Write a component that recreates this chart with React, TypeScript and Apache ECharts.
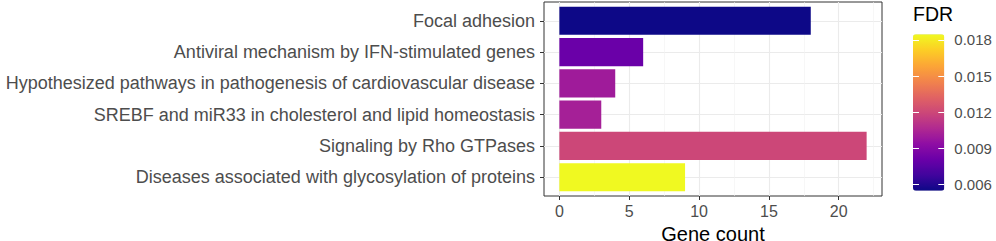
import React, { useEffect, useRef } from "react";
import * as echarts from "echarts";

const categories = [
  "Focal adhesion",
  "Antiviral mechanism by IFN-stimulated genes",
  "Hypothesized pathways in pathogenesis of cardiovascular disease",
  "SREBF and miR33 in cholesterol and lipid homeostasis",
  "Signaling by Rho GTPases",
  "Diseases associated with glycosylation of proteins",
];
const geneCount = [18, 6, 4, 3, 22, 9];
const fdr = [0.00547, 0.00807, 0.0100, 0.0102, 0.01197, 0.01847];
const xTicks = [0, 5, 10, 15, 20];
const xMinor = [2.5, 7.5, 12.5, 17.5, 22.5];
const fdrTicks = [0.006, 0.009, 0.012, 0.015, 0.018];
const fdrMin = 0.00547;
const fdrMax = 0.01847;
const plasma = [
  "#0d0887", "#41049d", "#6a00a8", "#8f0da4", "#b12a90", "#cc4778",
  "#e16462", "#f2844b", "#fca636", "#fcce25", "#f0f921",
];

const FONT = "Liberation Sans, Arial, Helvetica, sans-serif";
const XMIN = -1.1;
const XMAX = 23.1;

export default function App() {
  const ref = useRef<HTMLDivElement>(null);
  useEffect(() => {
    const chart = echarts.init(ref.current!, null, { renderer: "svg" });
    const pLeft = 544, pTop = 2, pW = 338, pH = 194;
    const step = pH / 6.2;
    const option: any = {
      animation: false,
      textStyle: { fontFamily: FONT },
      grid: [
        { left: pLeft, top: pTop, width: pW, height: pH, show: true, borderColor: "#333333", borderWidth: 1, backgroundColor: "#ffffff", z: 0, outerBoundsMode: "none", containLabel: false },
        { left: pLeft, top: pTop + 0.1 * step, width: pW, height: 6 * step, outerBoundsMode: "none", containLabel: false },
        { left: 913, top: 34.3, width: 31.3, height: 156.4, outerBoundsMode: "none", containLabel: false },
      ],
      xAxis: [
        {
          gridIndex: 0, type: "value", min: XMIN, max: XMAX,
          axisLine: { show: false, onZero: false },
          axisTick: { show: true, customValues: xTicks, length: 4, lineStyle: { color: "#333333" } },
          axisLabel: { customValues: xTicks, color: "#4d4d4d", fontSize: 16, margin: 7, fontFamily: FONT },
          splitLine: { show: true, lineStyle: { color: "#ebebeb", width: 1.1 } },
          name: "Gene count", nameLocation: "middle", nameGap: 25,
          nameTextStyle: { color: "#000000", fontSize: 20, fontFamily: FONT },
        },
        {
          gridIndex: 0, type: "value", min: XMIN, max: XMAX, position: "top",
          axisLine: { show: false, onZero: false },
          axisTick: { show: false, customValues: xMinor },
          axisLabel: { show: false, customValues: xMinor },
          splitLine: { show: true, lineStyle: { color: "#f2f2f2", width: 0.6 } },
        },
        {
          gridIndex: 1, type: "value", min: XMIN, max: XMAX, show: false,
          axisLine: { onZero: false },
          splitLine: { show: false },
        },
        { gridIndex: 2, type: "value", min: 0, max: 1, show: false, axisLine: { onZero: false } },
      ],
      yAxis: [
        {
          gridIndex: 0, type: "value", min: -0.6, max: 5.6,
          axisLine: { show: false, onZero: false },
          axisTick: { show: false, customValues: [0, 1, 2, 3, 4, 5] },
          axisLabel: { show: false, customValues: [0, 1, 2, 3, 4, 5] },
          splitLine: { show: true, lineStyle: { color: "#ebebeb", width: 1.1 } },
        },
        {
          gridIndex: 1, type: "category", data: categories, inverse: true,
          axisLine: { show: false, onZero: false },
          axisTick: { show: true, alignWithLabel: true, length: 4, lineStyle: { color: "#333333" } },
          axisLabel: { color: "#4d4d4d", fontSize: 18, margin: 9, fontFamily: FONT },
          splitLine: { show: false },
        },
        {
          gridIndex: 2, type: "value", min: fdrMin, max: fdrMax, position: "left",
          axisLine: { show: false, onZero: false },
          axisTick: { show: true, inside: true, length: 6, customValues: fdrTicks, lineStyle: { color: "#ffffff", width: 1 } },
          axisLabel: { show: false, customValues: fdrTicks },
          splitLine: { show: false },
          z: 5,
        },
        {
          gridIndex: 2, type: "value", min: fdrMin, max: fdrMax, position: "right",
          axisLine: { show: false, onZero: false },
          axisTick: { show: true, inside: true, length: 6, customValues: fdrTicks, lineStyle: { color: "#ffffff", width: 1 } },
          axisLabel: {
            show: true, customValues: fdrTicks, color: "#4d4d4d", fontSize: 15, margin: 10, fontFamily: FONT,
            formatter: (v: number) => v.toFixed(3),
          },
          splitLine: { show: false },
          z: 5,
        },
      ],
      visualMap: {
        type: "continuous",
        min: fdrMin, max: fdrMax,
        dimension: 2,
        seriesIndex: 0,
        inRange: { color: plasma },
        left: 913, top: 34.3,
        itemWidth: 31.3, itemHeight: 156.4,
        padding: 0,
        calculable: false,
        realtime: false,
        text: null,
        showLabel: false,
        orient: "vertical",
        z: 1,
      },
      graphic: [
        {
          type: "text", left: 913, top: 4,
          style: { text: "FDR", fontSize: 19.5, fill: "#000000", fontFamily: FONT },
        },
      ],
      series: [
        {
          type: "bar",
          xAxisIndex: 2,
          yAxisIndex: 1,
          barWidth: "90%",
          data: categories.map((c, i) => [geneCount[i], c, fdr[i]]),
          encode: { x: 0, y: 1 },
          z: 3,
        },
      ],
    };
    chart.setOption(option);
    return () => chart.dispose();
  }, []);
  return <div ref={ref} style={{ position: "absolute", left: 0, top: 0, width: 996, height: 241 }} />;
}
